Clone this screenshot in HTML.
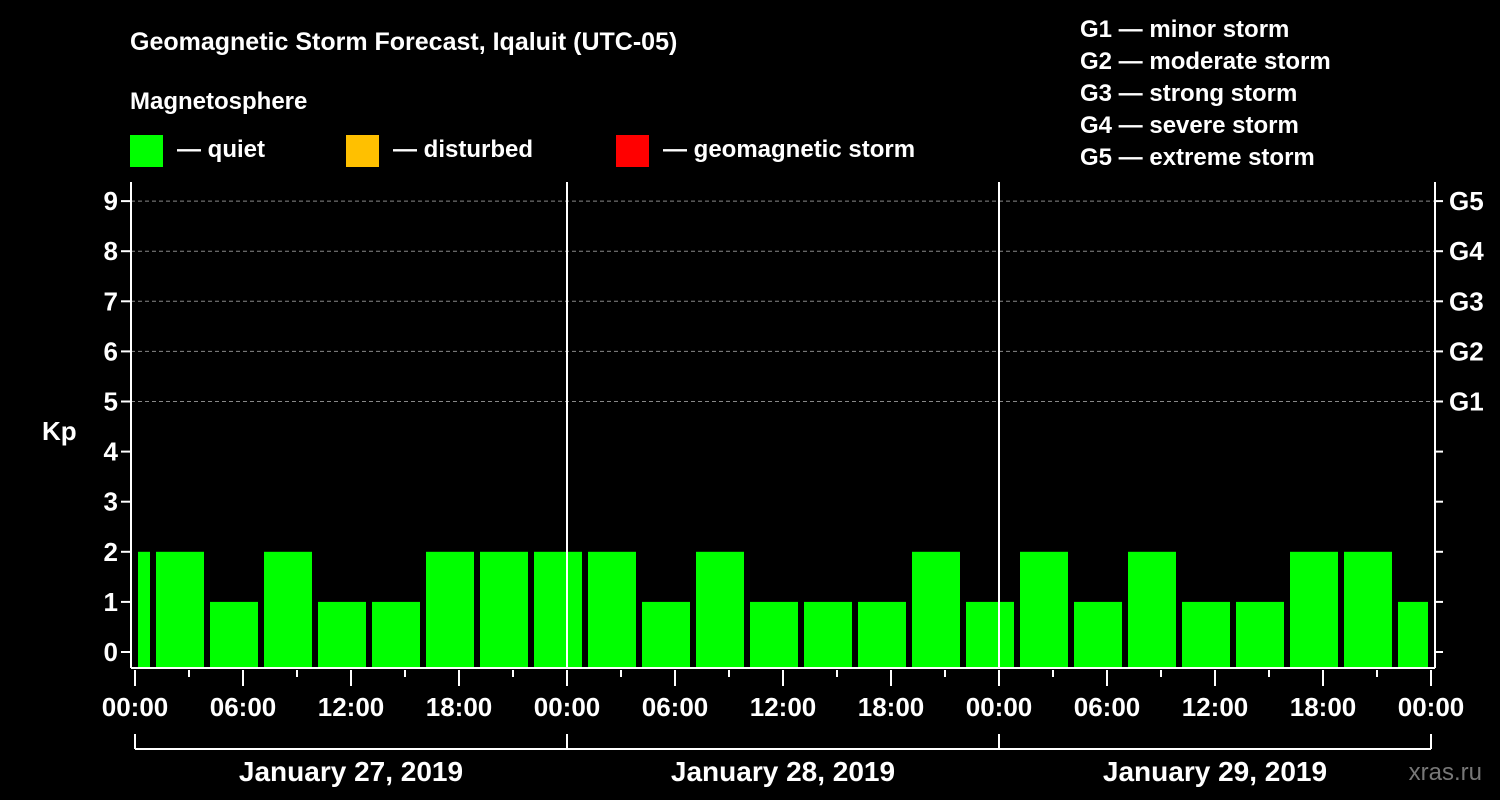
<!DOCTYPE html>
<html><head><meta charset="utf-8"><style>
html,body{margin:0;padding:0;background:#000;}
svg{display:block;font-family:"Liberation Sans",sans-serif;font-weight:bold;}
</style></head><body>
<svg width="1500" height="800" viewBox="0 0 1500 800">
<g id="static">
<text x="130" y="50" font-size="25" fill="#fff">Geomagnetic Storm Forecast, Iqaluit (UTC-05)</text>
<text x="130" y="109" font-size="24" fill="#fff">Magnetosphere</text>
<rect x="130" y="135" width="33" height="32" fill="#00ff00"/>
<text x="177" y="157" font-size="24" fill="#fff">— quiet</text>
<rect x="346" y="135" width="33" height="32" fill="#ffc000"/>
<text x="393" y="157" font-size="24" fill="#fff">— disturbed</text>
<rect x="616" y="135" width="33" height="32" fill="#ff0000"/>
<text x="663" y="157" font-size="24" fill="#fff">— geomagnetic storm</text>
<g font-size="24" fill="#fff">
<text x="1080" y="37">G1 — minor storm</text>
<text x="1080" y="69">G2 — moderate storm</text>
<text x="1080" y="101">G3 — strong storm</text>
<text x="1080" y="133">G4 — severe storm</text>
<text x="1080" y="165">G5 — extreme storm</text>
</g>
<text x="42" y="440" font-size="26" fill="#fff">Kp</text>
<text x="1482" y="780" font-size="24" fill="#777" text-anchor="end" font-weight="normal">xras.ru</text>
</g>
<g id="chart"></g>
</svg>
<script>
const kpValues=[2,2,1,2,1,1,2,2,2,2,1,2,1,1,1,2,1,2,1,2,1,1,2,2,1];
const yTicks=[0,1,2,3,4,5,6,7,8,9];
const gLabels=["G1","G2","G3","G4","G5"];
const xTickLabels=["00:00","06:00","12:00","18:00","00:00","06:00","12:00","18:00","00:00","06:00","12:00","18:00","00:00"];
const dayLabels=["January 27, 2019","January 28, 2019","January 29, 2019"];
const NS="http://www.w3.org/2000/svg";
const g=document.getElementById('chart');
const X0=135,PXH=18,Y0=652,PXK=50.1,TOP=182,BOT=668,L=131,R=1435;
const xs=h=>X0+h*PXH, ys=k=>Y0-k*PXK;
function mk(t,a,txt){const e=document.createElementNS(NS,t);for(const k in a)e.setAttribute(k,a[k]);if(txt!==undefined)e.textContent=txt;g.appendChild(e);return e;}
// grid
for(let k=5;k<=9;k++){const e=mk('line',{x1:L,x2:R,y1:ys(k),y2:ys(k),stroke:'#888','stroke-dasharray':'4,3','stroke-width':1});

}
// bars
kpValues.forEach((v,i)=>{let h0,h1;if(i===0){h0=0;h1=1;}else{h0=1+(i-1)*3;h1=Math.min(h0+3,72);}
let x1=Math.max(xs(h0)+3,X0+1),x2=Math.min(xs(h1)-3,xs(72)-3);if(i===0)x2=xs(h1)-3;
const c=v>=5?'#ff0000':(v>=4?'#ffc000':'#00ff00');
const e=mk('rect',{x:x1,y:ys(v),width:x2-x1,height:BOT-ys(v),fill:c});

});
// axes
const ax=[[L,TOP,L,BOT],[R,TOP,R,BOT],[L,BOT,R,BOT],[xs(24),TOP,xs(24),BOT],[xs(48),TOP,xs(48),BOT]];
ax.forEach((a,i)=>{const e=mk('line',{x1:a[0],y1:a[1],x2:a[2],y2:a[3],stroke:'#fff','stroke-width':2});

});
yTicks.forEach(k=>{mk('line',{x1:L-10,x2:L,y1:ys(k),y2:ys(k),stroke:'#fff','stroke-width':2});
mk('line',{x1:R,x2:R+8,y1:ys(k),y2:ys(k),stroke:'#fff','stroke-width':2});
const t=mk('text',{x:118,y:ys(k)+9,'font-size':26,fill:'#fff','text-anchor':'end'},String(k));

});
gLabels.forEach((s,i)=>{const t=mk('text',{x:1449,y:ys(5+i)+9,'font-size':26,fill:'#fff'},s);

});
for(let h=0;h<=72;h+=3){const major=h%6===0;mk('line',{x1:xs(h),x2:xs(h),y1:BOT+2,y2:BOT+(major?18:9),stroke:'#fff','stroke-width':2});}
xTickLabels.forEach((s,i)=>{const t=mk('text',{x:xs(i*6),y:716,'font-size':26,fill:'#fff','text-anchor':'middle'},s);

});
mk('line',{x1:xs(0),x2:xs(72),y1:749,y2:749,stroke:'#fff','stroke-width':2});
for(let d=0;d<=3;d++)mk('line',{x1:xs(d*24),x2:xs(d*24),y1:734,y2:749,stroke:'#fff','stroke-width':2});
dayLabels.forEach((s,i)=>{const t=mk('text',{x:xs(i*24+12),y:781,'font-size':28,fill:'#fff','text-anchor':'middle'},s);

});
</script>
</body></html>
